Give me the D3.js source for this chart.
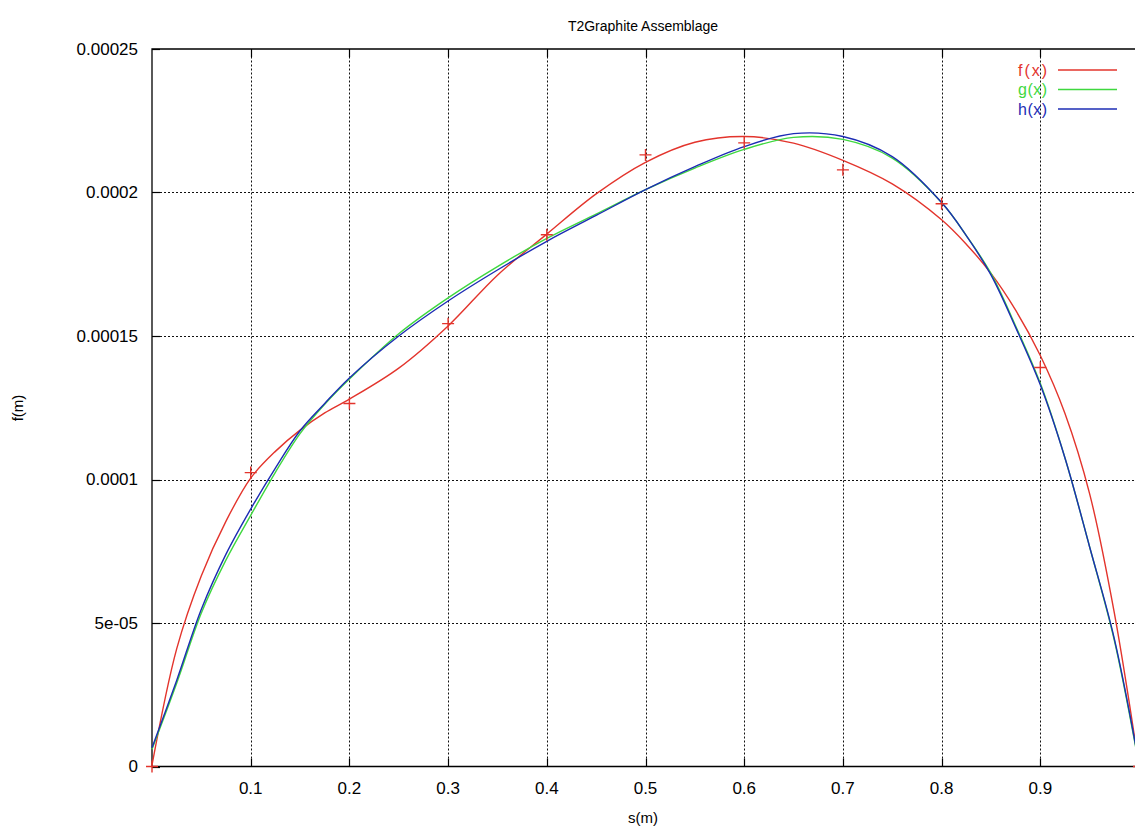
<!DOCTYPE html>
<html>
<head>
<meta charset="utf-8">
<script src="https://cdn.jsdelivr.net/npm/d3@7"></script>
<style>
  body { margin: 0; background: #fff; }
  svg text { font-family: "Liberation Sans", Arial, sans-serif; fill: #000; }
</style>
</head>
<body>
<div id="chart"></div>
<script>
// sample positions along s(m)
const sVals = [0, 0.025, 0.05, 0.075, 0.1, 0.125, 0.15, 0.175, 0.2, 0.25, 0.3, 0.35, 0.4, 0.45,
               0.5, 0.55, 0.6, 0.65, 0.7, 0.75, 0.8, 0.825, 0.85, 0.875, 0.9, 0.925, 0.95, 0.975, 1.0];

// f(x), g(x), h(x) at sVals
const fVals = [0.0000005, 0.0000410, 0.0000665, 0.0000855, 0.0001005, 0.0001098, 0.0001172, 0.0001232,
               0.0001280, 0.0001388, 0.0001535, 0.0001712, 0.0001855, 0.0001995, 0.0002105, 0.0002175,
               0.0002195, 0.0002172, 0.0002112, 0.0002030, 0.0001905, 0.0001820, 0.0001718, 0.0001590,
               0.0001432, 0.0001230, 0.0000950, 0.0000535, 0.0000000];
const gVals = [0.0000060, 0.0000290, 0.0000535, 0.0000720, 0.0000875, 0.0001025, 0.0001160, 0.0001262,
               0.0001350, 0.0001508, 0.0001633, 0.0001742, 0.0001840, 0.0001925, 0.0002010, 0.0002085,
               0.0002150, 0.0002192, 0.0002185, 0.0002120, 0.0001965, 0.0001850, 0.0001718, 0.0001535,
               0.0001335, 0.0001075, 0.0000765, 0.0000440, 0.0000005];
const hVals = [0.0000065, 0.0000300, 0.0000548, 0.0000740, 0.0000897, 0.0001040, 0.0001170, 0.0001265,
               0.0001354, 0.0001500, 0.0001622, 0.0001730, 0.0001830, 0.0001920, 0.0002010, 0.0002090,
               0.0002160, 0.0002205, 0.0002195, 0.0002125, 0.0001965, 0.0001850, 0.0001713, 0.0001530,
               0.0001330, 0.0001075, 0.0000765, 0.0000445, 0.0000010];

// measured points (red crosses)
const ptS = [0, 0.1, 0.2, 0.3, 0.4, 0.5, 0.6, 0.7, 0.8, 0.9, 1.0];
const ptVals = [0, 0.0001024, 0.0001265, 0.0001543, 0.0001853, 0.0002131, 0.0002173, 0.0002079,
                0.0001961, 0.0001390, 0];

const xTicks = [0.1, 0.2, 0.3, 0.4, 0.5, 0.6, 0.7, 0.8, 0.9];
const yTicks = [0, 0.00005, 0.0001, 0.00015, 0.0002, 0.00025];
const yTickLabels = ["0", "5e-05", "0.0001", "0.00015", "0.0002", "0.00025"];

const seriesNames = ["f(x)", "g(x)", "h(x)"];
const seriesColors = ["#e3342c", "#3fd83f", "#1c2cb4"];

const width = 1135, height = 830;
const margin = {top: 49, right: -4, bottom: 63, left: 152};

const svg = d3.select("#chart").append("svg")
    .attr("width", width)
    .attr("height", height);

const x = d3.scaleLinear()
    .domain([0, 1])
    .range([margin.left, width - margin.right]);

const y = d3.scaleLinear()
    .domain([0, 0.00025])
    .range([height - margin.bottom - 0.5, margin.top]);

// grid
svg.append("g").selectAll("line")
    .data(xTicks)
    .join("line")
    .attr("x1", d => Math.round(x(d)) + 0.5)
    .attr("x2", d => Math.round(x(d)) + 0.5)
    .attr("y1", y(0))
    .attr("y2", y(0.00025))
    .attr("stroke", "#111")
    .attr("stroke-dasharray", "2,2");

svg.append("g").selectAll("line")
    .data(yTicks.slice(1, -1))
    .join("line")
    .attr("x1", x(0))
    .attr("x2", width)
    .attr("y1", d => Math.round(y(d)) + 0.5)
    .attr("y2", d => Math.round(y(d)) + 0.5)
    .attr("stroke", "#111")
    .attr("stroke-dasharray", "2,2");

// tick marks on the border
const tickLen = 8;
xTicks.forEach(d => {
    const px = Math.round(x(d)) + 0.5;
    svg.append("line").attr("x1", px).attr("x2", px)
        .attr("y1", y(0)).attr("y2", y(0) - tickLen)
        .attr("stroke", "#000").attr("stroke-width", 1.2);
    svg.append("line").attr("x1", px).attr("x2", px)
        .attr("y1", y(0.00025)).attr("y2", y(0.00025) + tickLen)
        .attr("stroke", "#000").attr("stroke-width", 1.2);
});
yTicks.forEach(d => {
    const py = Math.round(y(d)) + 0.5;
    svg.append("line").attr("x1", x(0)).attr("x2", x(0) + tickLen)
        .attr("y1", py).attr("y2", py)
        .attr("stroke", "#000").attr("stroke-width", 1.2);
});

// border
svg.append("path")
    .attr("d", `M${width},${y(0.00025)}H${x(0)}V${y(0)}H${width}`)
    .attr("fill", "none")
    .attr("stroke", "#000")
    .attr("stroke-width", 1.3);

// tick labels
svg.append("g").selectAll("text")
    .data(xTicks)
    .join("text")
    .attr("x", d => x(d))
    .attr("y", 794)
    .attr("text-anchor", "middle")
    .style("font-size", "17px")
    .text(d => d.toString());

svg.append("g").selectAll("text")
    .data(yTicks)
    .join("text")
    .attr("x", 138)
    .attr("y", d => y(d))
    .attr("dy", "0.35em")
    .attr("text-anchor", "end")
    .style("font-size", "17px")
    .text((d, i) => yTickLabels[i]);

// titles
svg.append("text")
    .attr("x", 643).attr("y", 31)
    .attr("text-anchor", "middle")
    .style("font-size", "14px")
    .text("T2Graphite Assemblage");

svg.append("text")
    .attr("x", 643).attr("y", 823)
    .attr("text-anchor", "middle")
    .style("font-size", "15px")
    .text("s(m)");

svg.append("text")
    .attr("transform", "translate(23,408) rotate(-90)")
    .attr("text-anchor", "middle")
    .style("font-size", "15px")
    .text("f(m)");

// curves
const line = d3.line()
    .x(d => x(d[0]))
    .y(d => y(d[1]))
    .curve(d3.curveCatmullRom.alpha(0.5));

[fVals, gVals, hVals].forEach((vals, i) => {
    svg.append("path")
        .datum(sVals.map((s, k) => [s, vals[k]]))
        .attr("fill", "none")
        .attr("stroke", seriesColors[i])
        .attr("stroke-width", 1.4)
        .attr("d", line);
});

// data points
svg.append("g").selectAll("path")
    .data(ptS.map((s, k) => [s, ptVals[k]]))
    .join("path")
    .attr("d", d => {
        const px = x(d[0]), py = y(d[1]);
        return `M${px - 6},${py}H${px + 6}M${px},${py - 6}V${py + 6}`;
    })
    .attr("stroke", seriesColors[0])
    .attr("stroke-width", 1.4);

// legend
seriesNames.forEach((name, i) => {
    const ly = 70 + i * 19.5;
    svg.append("text")
        .attr("x", 1047).attr("y", ly)
        .attr("dy", "0.35em")
        .attr("text-anchor", "end")
        .attr("textLength", 29)
        .attr("lengthAdjust", "spacing")
        .style("font-size", "16px")
        .style("fill", seriesColors[i])
        .text(name);
    svg.append("line")
        .attr("x1", 1058).attr("x2", 1117)
        .attr("y1", ly).attr("y2", ly)
        .attr("stroke", seriesColors[i])
        .attr("stroke-width", 1.4);
});
</script>
</body>
</html>
